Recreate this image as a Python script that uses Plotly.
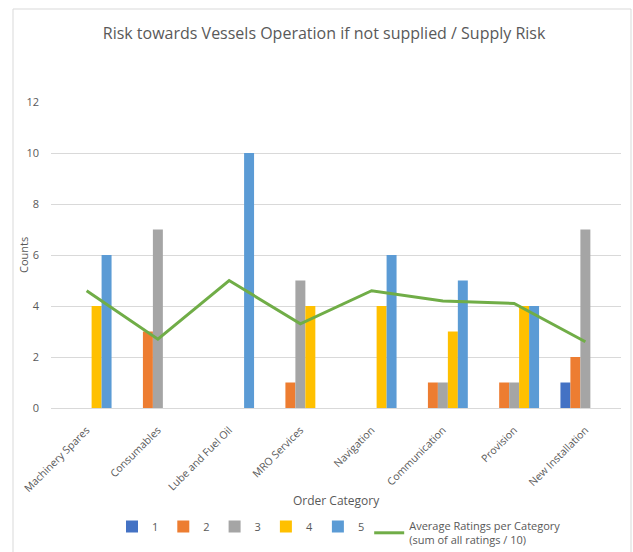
import plotly.graph_objects as go

categories = ["Machinery Spares", "Consumables", "Lube and Fuel Oil", "MRO Services",
              "Navigation", "Communication", "Provision", "New Installation"]
rating_1 = [0, 0, 0, 0, 0, 0, 0, 1]
rating_2 = [0, 3, 0, 1, 0, 1, 1, 2]
rating_3 = [0, 7, 0, 5, 0, 1, 1, 7]
rating_4 = [4, 0, 0, 4, 4, 3, 4, 0]
rating_5 = [6, 0, 10, 0, 6, 5, 4, 0]
average_rating = [4.6, 2.7, 5.0, 3.3, 4.6, 4.2, 4.1, 2.6]

series = [("1", rating_1, "#4472C4"), ("2", rating_2, "#ED7D31"), ("3", rating_3, "#A5A5A5"),
          ("4", rating_4, "#FFC000"), ("5", rating_5, "#5B9BD5")]

W, H = 633, 552
L, R, T, B = 51, 621, 102, 408  # plot area in px

def px_x(p):
    return (p - L) / (R - L)

def px_y(p):
    return (B - p) / (B - T)

FONT = "Open Sans"
GRAY = "#595959"

fig = go.Figure()
for name, vals, col in series:
    fig.add_trace(go.Bar(x=categories, y=vals, name=name, marker=dict(color=col, line=dict(width=0))))
fig.add_trace(go.Scatter(x=categories, y=average_rating, mode="lines",
                         name="Average Ratings per Category<br>(sum of all ratings / 10)",
                         line=dict(color="#70AD47", width=3)))

fig.update_layout(
    width=W, height=H,
    margin=dict(l=L, r=W - R, t=T, b=H - B, pad=0, autoexpand=False),
    paper_bgcolor="white", plot_bgcolor="white",
    barmode="group", bargap=0.3, bargroupgap=0,
    font=dict(family=FONT, color=GRAY, size=11),
    title=dict(text="Risk towards Vessels Operation if not supplied / Supply Risk",
               x=0.512, xanchor="center", y=1 - 33 / H, yanchor="middle",
               font=dict(size=16, color=GRAY, family=FONT)),
    xaxis=dict(showgrid=False, showline=True, linecolor="#D9D9D9", linewidth=1,
               tickangle=-45, ticks="", ticklabelstandoff=11,
               tickfont=dict(size=10.5, color=GRAY)),
    yaxis=dict(range=[0, 12], dtick=2, showgrid=True, gridcolor="#D9D9D9", gridwidth=1,
               zeroline=False, showline=False, ticks="", ticklabelstandoff=11,
               tickfont=dict(size=11, color=GRAY)),
    legend=dict(orientation="h", xref="container", yref="container",
                x=112 / W, y=1 - 512 / H, xanchor="left", yanchor="top",
                font=dict(size=11, color=GRAY), bgcolor="rgba(0,0,0,0)",
                itemwidth=30, tracegroupgap=0),
    showlegend=True,
    annotations=[
        dict(text="Order Category", x=0.5, y=px_y(500), xref="paper", yref="paper",
             showarrow=False, xanchor="center", yanchor="middle", font=dict(size=12, color=GRAY)),
        dict(text="Counts", x=px_x(23), y=0.5, xref="paper", yref="paper", textangle=-90,
             showarrow=False, xanchor="center", yanchor="middle", font=dict(size=11, color=GRAY)),
    ],
    shapes=[dict(type="rect", xref="paper", yref="paper",
                 x0=px_x(13), x1=px_x(631), y0=px_y(570), y1=px_y(9),
                 line=dict(color="#D9D9D9", width=1), fillcolor="rgba(0,0,0,0)", layer="below")],
)

fig.write_html("out.html")
